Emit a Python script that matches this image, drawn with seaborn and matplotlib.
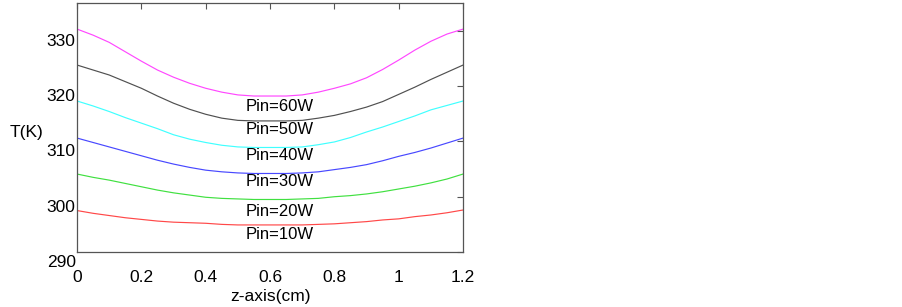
import matplotlib
matplotlib.use("Agg")
import matplotlib.pyplot as plt
import matplotlib.transforms as mtransforms
import seaborn as sns
import pandas as pd

# positions along z (cm)
z = [0.0, 0.05, 0.1, 0.15, 0.2, 0.25, 0.3, 0.35, 0.4, 0.45, 0.5, 0.55, 0.6,
     0.65, 0.7, 0.75, 0.8, 0.85, 0.9, 0.95, 1.0, 1.05, 1.1, 1.15, 1.2]

# temperature (K), one list per input power
t_10w = [297.5, 297.0, 296.6, 296.2, 295.9, 295.6, 295.4, 295.3, 295.2, 295.0, 294.9, 294.9, 294.9,
         294.9, 294.9, 295.0, 295.1, 295.3, 295.5, 295.8, 296.0, 296.4, 296.7, 297.1, 297.6]
t_20w = [304.1, 303.5, 303.0, 302.4, 301.8, 301.2, 300.7, 300.3, 299.9, 299.7, 299.6, 299.5, 299.5,
         299.5, 299.6, 299.7, 300.0, 300.2, 300.5, 300.9, 301.4, 301.9, 302.5, 303.2, 304.1]
t_30w = [310.6, 309.8, 309.0, 308.2, 307.4, 306.6, 305.9, 305.3, 304.8, 304.5, 304.3, 304.2, 304.2,
         304.2, 304.3, 304.5, 304.9, 305.3, 305.8, 306.5, 307.3, 308.0, 308.8, 309.7, 310.6]
t_40w = [317.3, 316.4, 315.4, 314.3, 313.3, 312.3, 311.2, 310.4, 309.8, 309.3, 309.0, 308.9, 308.9,
         308.9, 309.0, 309.4, 309.9, 310.7, 311.7, 312.6, 313.6, 314.6, 315.7, 316.5, 317.3]
t_50w = [323.8, 322.9, 322.0, 320.8, 319.6, 318.2, 316.9, 315.8, 314.9, 314.2, 313.8, 313.7, 313.7,
         313.7, 313.8, 314.2, 314.7, 315.4, 316.2, 317.2, 318.5, 319.8, 321.2, 322.5, 323.8]
t_60w = [330.3, 329.2, 327.9, 326.2, 324.5, 322.9, 321.6, 320.5, 319.6, 318.9, 318.4, 318.2, 318.2,
         318.2, 318.4, 318.9, 319.6, 320.4, 321.5, 323.0, 324.7, 326.5, 328.1, 329.4, 330.3]

labels = ["Pin=10W", "Pin=20W", "Pin=30W", "Pin=40W", "Pin=50W", "Pin=60W"]
series = [t_10w, t_20w, t_30w, t_40w, t_50w, t_60w]
label_y = [293.1, 297.4, 302.7, 307.4, 312.1, 316.3]
colors = ["#ff4848", "#40e040", "#4848ff", "#40ffff", "#505050", "#ff48ff"]

rows = []
for lab, vals in zip(labels, series):
    for zz, tt in zip(z, vals):
        rows.append({"z": zz, "T": tt, "Pin": lab})
df = pd.DataFrame(rows)

sns.set_style("white")
plt.rcParams['font.family'] = ['Liberation Sans', 'DejaVu Sans']
plt.rcParams['text.color'] = 'black'
plt.rcParams['xtick.labelcolor'] = 'black'
plt.rcParams['ytick.labelcolor'] = 'black'
plt.rcParams['axes.labelcolor'] = 'black'

fig = plt.figure(figsize=(9.02, 3.07), dpi=100)
ax = fig.add_axes([0.0854, 0.179, 0.428, 0.811])

sns.lineplot(data=df, x="z", y="T", hue="Pin", palette=colors, linewidth=0.85,
             legend=False, ax=ax)

for lab, ly in zip(labels, label_y):
    ax.text(0.525, ly, lab, fontsize=12, va="center", ha="left", color="black")

ax.set_xlim(0, 1.2)
ax.set_ylim(290, 335)
ax.set_xticks([0, 0.2, 0.4, 0.6, 0.8, 1, 1.2])
ax.set_xticklabels(["0", "0.2", "0.4", "0.6", "0.8", "1", "1.2"])
ax.set_yticks([290, 300, 310, 320, 330])
ax.tick_params(direction="in", top=True, right=True, length=4, labelsize=12.5,
               color="#555555", labelcolor="black")
ax.tick_params(axis="x", pad=13)
ax.tick_params(axis="y", pad=1)
for s in ax.spines.values():
    s.set_color("#555555")
    s.set_linewidth(0.9)

# MATLAB-style: y tick labels sit a little below their ticks
offset = mtransforms.ScaledTranslation(0, -6.5 / 72, fig.dpi_scale_trans)
for lbl in ax.get_yticklabels():
    lbl.set_transform(lbl.get_transform() + offset)

ax.set_xlabel("z-axis(cm)", fontsize=12.5, va="center", color="black")
ax.xaxis.set_label_coords(0.5, -0.177)
ax.set_ylabel("T(K)", fontsize=12.5, rotation=0, ha="center", va="center", color="black")
ax.yaxis.set_label_coords(-0.132, 0.482)

plt.savefig("out.png", dpi=100)
